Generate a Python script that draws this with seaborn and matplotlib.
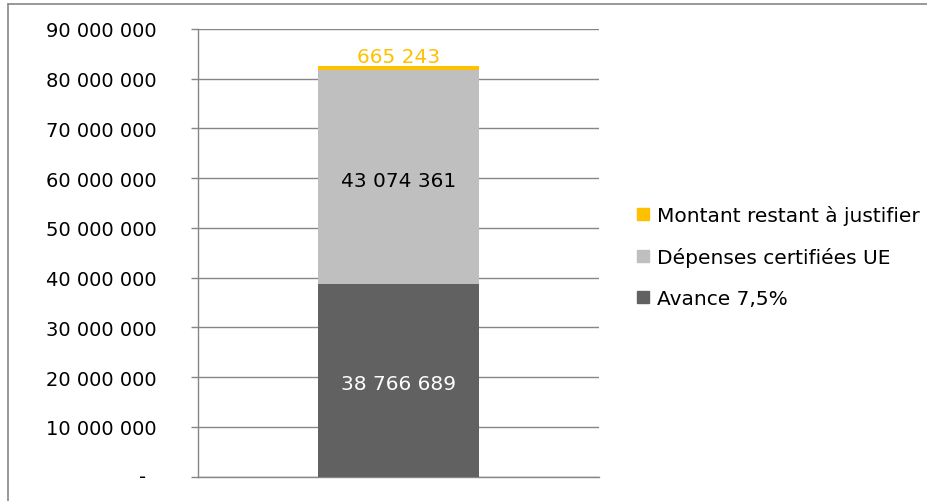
import matplotlib
matplotlib.use("Agg")
import matplotlib.pyplot as plt
import matplotlib.patches as mpatches
import matplotlib.lines as mlines
from matplotlib.ticker import FuncFormatter
import seaborn as sns

# Data
category = ["Total"]
series_names = ["Avance 7,5%", "Dépenses certifiées UE", "Montant restant à justifier"]
avance = [38766689]
depenses = [43074361]
restant = [665243]
colors = ["#616161", "#BFBFBF", "#FFC000"]
label_colors = ["white", "black", "#FFC000"]

sns.set_theme(style="white")
plt.rcParams["font.family"] = ["DejaVu Sans"]

fig = plt.figure(figsize=(9.28, 5.02), dpi=100)
ax = fig.add_axes([198 / 928, (502 - 477.7) / 502, (599 - 198) / 928, (477.7 - 30) / 502])

grid_col = "#868686"

values = [avance, depenses, restant]
bottom = [0.0]
for name, vals, col in zip(series_names, values, colors):
    sns.barplot(x=category, y=vals, bottom=bottom, color=col, width=0.4,
                saturation=1, ax=ax, zorder=3, linewidth=0, edgecolor="none")
    bottom = [b + v for b, v in zip(bottom, vals)]

ax.set_xlim(-0.5, 0.5)
ax.set_ylim(0, 90_000_000)
ax.set_yticks(range(0, 90_000_001, 10_000_000))

def fmt(v, pos):
    if v == 0:
        return ""
    return f"{int(v):,}".replace(",", " ")

ax.yaxis.set_major_formatter(FuncFormatter(fmt))
ax.tick_params(axis="y", length=5, width=1, color=grid_col, labelsize=14,
               pad=24.5, labelcolor="black", left=True)
ax.tick_params(axis="x", bottom=False, labelbottom=False)
ax.set_xlabel("")
ax.set_ylabel("")
ax.grid(axis="y", color=grid_col, lw=1, zorder=0)
ax.set_axisbelow(True)
for s in ["top", "right"]:
    ax.spines[s].set_visible(False)
for s in ["left", "bottom"]:
    ax.spines[s].set_color(grid_col)
    ax.spines[s].set_linewidth(1)

# dash for zero tick
ax.annotate("-", xy=(0, 0), xycoords=("axes fraction", "data"),
            xytext=(-37.5, 0), textcoords="offset points",
            ha="right", va="center", fontsize=14, color="black")

# value labels
base = 0.0
for vals, lc in zip(values[:2], label_colors[:2]):
    v = vals[0]
    ax.annotate(f"{v:,}".replace(",", " "), xy=(0, base + v / 2),
                xytext=(0, -2.5), textcoords="offset points",
                ha="center", va="center", fontsize=14.5, color=lc, zorder=5)
    base += v
v = restant[0]
ax.annotate(f"{v:,}".replace(",", " "), xy=(0, base + v),
            xytext=(0, 0), textcoords="offset points",
            ha="center", va="bottom", fontsize=14.5, color=label_colors[2], zorder=5)

# legend, top series first
handles = [mpatches.Patch(color=c, label=n) for n, c in zip(series_names, colors)][::-1]
fig.legend(handles=handles, loc="upper left", bbox_to_anchor=(637 / 928, 1 - 206 / 502),
           frameon=False, fontsize=14.5, labelcolor="black",
           handlelength=0.6, handleheight=0.5,
           handletextpad=0.4, labelspacing=1.1, borderaxespad=0, borderpad=0)

# chart border (top and left edges)
fig.add_artist(mlines.Line2D([8 / 928, 1.0], [1 - 4.7 / 502, 1 - 4.7 / 502],
                             transform=fig.transFigure, color=grid_col, lw=1.2))
fig.add_artist(mlines.Line2D([8 / 928, 8 / 928], [0.0, 1 - 4.7 / 502],
                             transform=fig.transFigure, color=grid_col, lw=1.2))

fig.savefig("out.png", dpi=100)
